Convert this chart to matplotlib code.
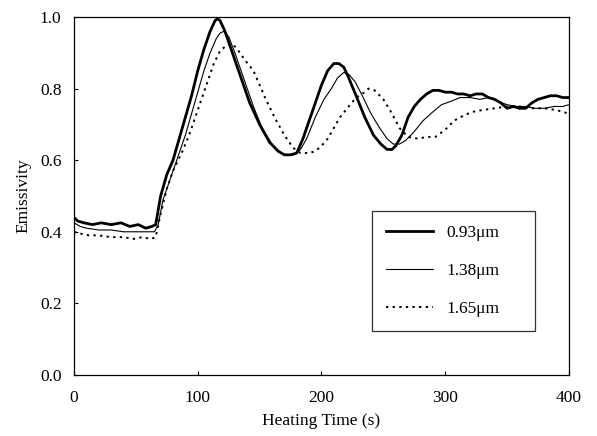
import matplotlib
matplotlib.use("Agg")
from matplotlib import pyplot as plt

# 0.93 um (thick)
t_093 = [0, 3, 8, 15, 22, 30, 38, 45, 52, 58, 63, 66, 70, 75, 80, 85, 90, 95, 100, 105,
         110, 114, 116, 118, 122, 128, 135, 142, 150, 158, 165, 170, 175, 180, 185, 190,
         195, 200, 205, 210, 214, 218, 222, 228, 235, 242, 248, 253, 257, 260, 265, 270,
         275, 280, 285, 290, 295, 300, 305, 310, 315, 320, 325, 330, 335, 340, 345, 350,
         355, 360, 365, 370, 375, 380, 385, 390, 395, 400]
e_093 = [0.44, 0.43, 0.425, 0.42, 0.425, 0.42, 0.425, 0.415, 0.42, 0.41, 0.415, 0.42,
         0.50, 0.56, 0.60, 0.66, 0.72, 0.78, 0.85, 0.91, 0.96, 0.99, 0.995, 0.99, 0.96,
         0.90, 0.83, 0.76, 0.70, 0.65, 0.625, 0.615, 0.615, 0.62, 0.66, 0.71, 0.76, 0.81,
         0.85, 0.87, 0.87, 0.86, 0.83, 0.78, 0.72, 0.67, 0.645, 0.63, 0.63, 0.64, 0.67,
         0.72, 0.75, 0.77, 0.785, 0.795, 0.795, 0.79, 0.79, 0.785, 0.785, 0.78, 0.785,
         0.785, 0.775, 0.77, 0.76, 0.745, 0.75, 0.745, 0.745, 0.76, 0.77, 0.775, 0.78,
         0.78, 0.775, 0.775]

# 1.38 um (thin)
t_138 = [0, 5, 10, 20, 30, 40, 50, 60, 65, 68, 72, 78, 85, 90, 95, 100, 105, 110, 115,
         118, 121, 125, 130, 137, 145, 152, 160, 167, 172, 178, 183, 188, 195, 202, 208,
         213, 218, 222, 227, 233, 240, 247, 253, 258, 263, 268, 275, 282, 290, 297, 305,
         312, 320, 328, 335, 342, 350, 358, 365, 372, 380, 388, 395, 400]
e_138 = [0.425, 0.415, 0.41, 0.405, 0.405, 0.40, 0.40, 0.40, 0.40, 0.42, 0.49, 0.55,
         0.62, 0.67, 0.73, 0.79, 0.85, 0.90, 0.94, 0.955, 0.96, 0.945, 0.90, 0.83, 0.75,
         0.69, 0.645, 0.62, 0.615, 0.615, 0.63, 0.66, 0.72, 0.77, 0.80, 0.83, 0.845, 0.84,
         0.82, 0.78, 0.73, 0.69, 0.66, 0.645, 0.645, 0.655, 0.68, 0.71, 0.735, 0.755,
         0.765, 0.775, 0.775, 0.77, 0.775, 0.765, 0.755, 0.75, 0.75, 0.745, 0.745, 0.75,
         0.75, 0.755]

# 1.65 um (dotted)
t_165 = [0, 5, 12, 20, 30, 40, 48, 55, 62, 66, 70, 75, 80, 87, 93, 100, 107, 113, 118,
         123, 128, 132, 138, 145, 150, 155, 162, 170, 177, 183, 190, 195, 200, 205, 210,
         215, 222, 228, 233, 238, 243, 250, 257, 263, 270, 278, 285, 292, 300, 307, 315,
         322, 330, 340, 350, 360, 370, 380, 390, 395, 400]
e_165 = [0.40, 0.395, 0.39, 0.39, 0.385, 0.385, 0.38, 0.385, 0.38, 0.385, 0.45, 0.52,
         0.57, 0.62, 0.67, 0.74, 0.81, 0.87, 0.905, 0.92, 0.925, 0.91, 0.88, 0.85, 0.81,
         0.77, 0.72, 0.67, 0.635, 0.62, 0.62, 0.625, 0.64, 0.66, 0.69, 0.72, 0.75, 0.775,
         0.785, 0.80, 0.795, 0.77, 0.73, 0.69, 0.665, 0.66, 0.665, 0.665, 0.685, 0.71,
         0.725, 0.735, 0.74, 0.745, 0.75, 0.75, 0.745, 0.745, 0.74, 0.735, 0.73]

plt.rcParams['font.family'] = ['Liberation Serif', 'DejaVu Serif']

fig = plt.figure(figsize=(5.97, 4.36), dpi=100)
ax = fig.add_axes([0.124, 0.140, 0.829, 0.821])

ax.plot(t_093, e_093, color='black', lw=2.0, label='0.93\u03bcm')
ax.plot(t_138, e_138, color='black', lw=0.8, label='1.38\u03bcm')
ax.plot(t_165, e_165, color='black', lw=1.4, linestyle=(0, (1.2, 2.2)), label='1.65\u03bcm')

ax.set_xlim(0, 400)
ax.set_ylim(0, 1.0)
ax.set_xticks([0, 100, 200, 300, 400])
ax.set_yticks([0.0, 0.2, 0.4, 0.6, 0.8, 1.0])
ax.set_yticklabels(['0.0', '0.2', '0.4', '0.6', '0.8', '1.0'])
ax.tick_params(direction='in', length=3, labelsize=12.5)
ax.tick_params(axis='x', pad=11)
ax.tick_params(axis='y', pad=9)
for s in ax.spines.values():
    s.set_linewidth(0.9)

ax.set_xlabel('Heating Time (s)', fontsize=12.5, labelpad=5)
ax.set_ylabel('Emissivity', fontsize=12.5, labelpad=6)

leg = ax.legend(loc='upper left', mode='expand',
                bbox_to_anchor=(372 / 597, 104 / 436, 163 / 597, 121 / 436),
                bbox_transform=fig.transFigure, fontsize=12.5, frameon=True,
                fancybox=False, edgecolor='black', handlelength=2.7,
                labelspacing=1.25, borderpad=0.8, handletextpad=0.8, borderaxespad=0)
leg.get_frame().set_linewidth(0.9)

fig.savefig('out.png', dpi=100)
